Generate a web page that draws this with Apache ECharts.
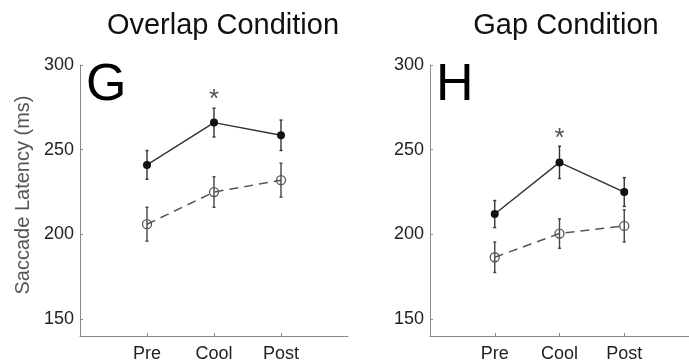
<!DOCTYPE html>
<html>
<head>
<meta charset="utf-8">
<script src="https://cdn.jsdelivr.net/npm/echarts@6/dist/echarts.min.js"></script>
<style>
  html, body { margin: 0; padding: 0; background: #fff; }
  #chart { width: 689px; height: 364px; }
</style>
</head>
<body>
<div id="chart"></div>
<script>
// Saccade latency, overlap vs gap condition
const phases = ['Pre', 'Cool', 'Post'];
const phasePos = [1, 2, 3];
const yTicks = [150, 200, 250, 300];

const overlapSolid = [241, 266, 258.5];
const overlapSolidErr = [8.5, 8.5, 9];
const overlapDashed = [206, 225, 232];
const overlapDashedErr = [10, 9, 10];

const gapSolid = [212, 242.5, 225];
const gapSolidErr = [8, 9.5, 8.5];
const gapDashed = [186.5, 200.5, 205];
const gapDashedErr = [9, 8.7, 9.5];

// significance markers: [x, y]
const overlapSig = [[2, 279.5]];
const gapSig = [[2, 256.5]];

const FONT = '"Liberation Sans", Arial, sans-serif';
const AXIS_COLOR = '#8a8a8a';

const pairs = (vals) => vals.map((v, i) => [phasePos[i], v]);
const errData = (vals, errs) => vals.map((v, i) => [phasePos[i], v - errs[i], v + errs[i]]);

function errorBars(idx, vals, errs, color) {
  return {
    type: 'custom',
    xAxisIndex: idx,
    yAxisIndex: idx,
    data: errData(vals, errs),
    z: 1,
    renderItem: (params, api) => {
      const lo = api.coord([api.value(0), api.value(1)]);
      const hi = api.coord([api.value(0), api.value(2)]);
      const cap = 1.5;
      const style = { stroke: color, lineWidth: 1.4 };
      return {
        type: 'group',
        children: [
          { type: 'line', shape: { x1: lo[0], y1: lo[1], x2: hi[0], y2: hi[1] }, style },
          { type: 'line', shape: { x1: lo[0] - cap, y1: lo[1], x2: lo[0] + cap, y2: lo[1] }, style },
          { type: 'line', shape: { x1: hi[0] - cap, y1: hi[1], x2: hi[0] + cap, y2: hi[1] }, style },
        ],
      };
    },
  };
}

function solidLine(idx, vals) {
  return {
    type: 'line',
    xAxisIndex: idx,
    yAxisIndex: idx,
    data: pairs(vals),
    symbol: 'circle',
    symbolSize: 8,
    itemStyle: { color: '#111' },
    lineStyle: { color: '#333', width: 1.4 },
    z: 3,
    animation: false,
  };
}

function dashedLine(idx, vals) {
  return {
    type: 'line',
    xAxisIndex: idx,
    yAxisIndex: idx,
    data: pairs(vals),
    symbol: 'circle',
    symbolSize: 9,
    itemStyle: { color: 'rgba(0,0,0,0)', borderColor: '#555', borderWidth: 1.3 },
    lineStyle: { color: '#555', width: 1.5, type: [9, 6] },
    z: 3,
    animation: false,
  };
}

function sigMarker(idx, pts) {
  return {
    type: 'scatter',
    xAxisIndex: idx,
    yAxisIndex: idx,
    data: pts,
    symbolSize: 0,
    label: {
      show: true,
      position: 'inside',
      formatter: '*',
      color: '#222',
      fontSize: 26,
      fontFamily: FONT,
    },
    z: 4,
  };
}

function xAxis(idx) {
  return {
    type: 'value',
    gridIndex: idx,
    min: 0,
    max: 4,
    axisLine: { show: true, onZero: false, lineStyle: { color: AXIS_COLOR, width: 1 } },
    axisTick: { show: true, inside: true, length: 3, customValues: phasePos, lineStyle: { color: AXIS_COLOR } },
    axisLabel: {
      customValues: phasePos,
      formatter: (v) => phases[phasePos.indexOf(v)] || '',
      color: '#222',
      fontSize: 18,
      fontFamily: FONT,
      margin: 9,
    },
    splitLine: { show: false },
  };
}

function yAxis(idx) {
  return {
    type: 'value',
    gridIndex: idx,
    min: 140,
    max: 300,
    axisLine: { show: true, lineStyle: { color: AXIS_COLOR, width: 1 } },
    axisTick: { show: true, inside: true, length: 3, customValues: yTicks, lineStyle: { color: AXIS_COLOR } },
    axisLabel: {
      customValues: yTicks,
      color: '#222',
      fontSize: 18,
      fontFamily: FONT,
      margin: 6,
    },
    splitLine: { show: false },
  };
}

const chart = echarts.init(document.getElementById('chart'), null, { renderer: 'canvas' });

chart.setOption({
  backgroundColor: '#fff',
  animation: false,
  grid: [
    { left: 80, top: 65, width: 268, height: 271 },
    { left: 430, top: 65, width: 272, height: 271 },
  ],
  xAxis: [xAxis(0), xAxis(1)],
  yAxis: [yAxis(0), yAxis(1)],
  graphic: [
    { type: 'text', x: 223, y: 26, style: { text: 'Overlap Condition', font: '29px ' + FONT, fill: '#111', textAlign: 'center', textVerticalAlign: 'middle' } },
    { type: 'text', x: 566, y: 26, style: { text: 'Gap Condition', font: '29px ' + FONT, fill: '#111', textAlign: 'center', textVerticalAlign: 'middle' } },
    { type: 'text', x: 86, y: 86, style: { text: 'G', font: '52px ' + FONT, fill: '#000', textAlign: 'left', textVerticalAlign: 'middle' } },
    { type: 'text', x: 436, y: 86, style: { text: 'H', font: '52px ' + FONT, fill: '#000', textAlign: 'left', textVerticalAlign: 'middle' } },
    { type: 'text', x: 23, y: 195, rotation: Math.PI / 2, style: { text: 'Saccade Latency (ms)', font: '20px ' + FONT, fill: '#555', textAlign: 'center', textVerticalAlign: 'middle' } },
  ],
  series: [
    errorBars(0, overlapSolid, overlapSolidErr, '#333'),
    errorBars(0, overlapDashed, overlapDashedErr, '#444'),
    solidLine(0, overlapSolid),
    dashedLine(0, overlapDashed),
    sigMarker(0, overlapSig),
    errorBars(1, gapSolid, gapSolidErr, '#333'),
    errorBars(1, gapDashed, gapDashedErr, '#444'),
    solidLine(1, gapSolid),
    dashedLine(1, gapDashed),
    sigMarker(1, gapSig),
  ],
});
</script>
</body>
</html>
